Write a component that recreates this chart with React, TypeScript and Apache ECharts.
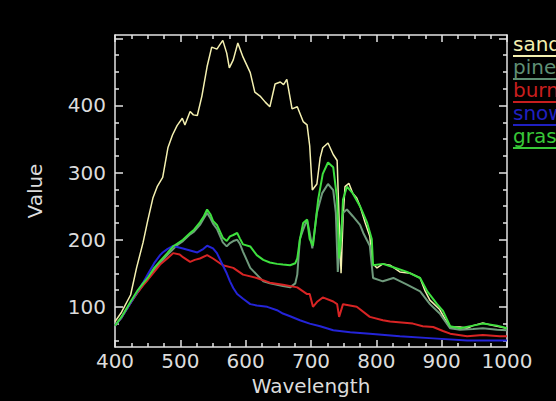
import React, { useEffect, useRef } from "react";
import * as echarts from "echarts";

const seriesNames = ["sand", "pine", "burn", "snow", "grass"];
const seriesColors = ["#f4f0b0", "#6f9a7c", "#d82424", "#2424d8", "#3ee03e"];
const legendColors = ["#f4f0b0", "#5f8f74", "#c81e1e", "#2020c0", "#38c838"];

const sand: number[][] = [
  [400, 78], [410, 92], [424, 118], [433, 158], [443, 196], [450, 228], [458, 262], [465, 280], [473, 293],
  [481, 337], [488, 356], [495, 370], [503, 381], [507, 371], [515, 391], [520, 386], [526, 385], [533, 414],
  [541, 458], [548, 487], [556, 484], [560, 490], [565, 497], [571, 478], [575, 456], [581, 468], [588, 493],
  [596, 472], [607, 449], [614, 420], [622, 414], [630, 405], [637, 398], [645, 432], [653, 435], [658, 431],
  [663, 439], [671, 395], [679, 398], [688, 376], [694, 371], [698, 340], [702, 274], [709, 283], [714, 322],
  [718, 337], [726, 344], [734, 327], [740, 318], [743, 230], [746, 150], [749, 230], [752, 279], [758, 284],
  [764, 269], [770, 262], [775, 250], [783, 225], [790, 205], [794, 165], [801, 158], [810, 164], [821, 162],
  [836, 152], [852, 150], [867, 143], [874, 125], [882, 110], [897, 96], [905, 82], [913, 70], [928, 70],
  [939, 68], [948, 72], [963, 76], [979, 72], [1000, 68],
];

const pine: number[][] = [
  [400, 72], [410, 84], [424, 106], [435, 122], [443, 133], [450, 141], [460, 155], [469, 165], [480, 177],
  [489, 186], [495, 192], [504, 198], [515, 208], [521, 212], [530, 222], [536, 232], [541, 240], [546, 232],
  [550, 224], [556, 216], [565, 196], [571, 190], [576, 195], [581, 198], [587, 200], [591, 194], [596, 182],
  [607, 158], [617, 148], [627, 138], [637, 135], [648, 133], [657, 131], [668, 129], [676, 135], [679, 148],
  [683, 201], [688, 215], [694, 230], [698, 210], [702, 187], [709, 240], [717, 269], [726, 283], [734, 274],
  [738, 240], [741, 152], [745, 200], [749, 240], [755, 245], [764, 235], [775, 222], [780, 210], [790, 191],
  [795, 143], [810, 138], [826, 143], [847, 133], [867, 123], [882, 104], [897, 90], [913, 68], [928, 66],
  [948, 67], [963, 68], [985, 66], [1000, 65],
];

const burn: number[][] = [
  [400, 72], [410, 84], [424, 106], [435, 122], [443, 132], [450, 140], [460, 152], [469, 163], [480, 172],
  [489, 180], [499, 178], [504, 174], [515, 167], [522, 170], [530, 172], [541, 177], [550, 172], [565, 162],
  [581, 158], [596, 148], [617, 143], [637, 136], [657, 133], [679, 129], [694, 119], [698, 119], [703, 100],
  [710, 108], [718, 114], [734, 108], [740, 104], [743, 85], [749, 104], [770, 100], [790, 85], [810, 80],
  [821, 78], [856, 75], [871, 71], [887, 70], [902, 64], [913, 60], [939, 56], [963, 58], [989, 56], [1000, 56],
];

const snow: number[][] = [
  [400, 72], [410, 84], [424, 106], [435, 124], [443, 136], [450, 148], [460, 165], [469, 177], [473, 181],
  [480, 186], [489, 191], [495, 189], [504, 187], [515, 184], [526, 181], [535, 186], [541, 191], [550, 187],
  [556, 180], [565, 162], [571, 150], [576, 138], [581, 128], [587, 119], [596, 112], [607, 104], [617, 102],
  [633, 100], [648, 95], [657, 90], [668, 86], [683, 80], [698, 75], [714, 71], [734, 65], [760, 62],
  [790, 60], [836, 56], [887, 53], [939, 50], [989, 50], [1000, 50],
];

const grass: number[][] = [
  [400, 72], [410, 85], [424, 108], [435, 125], [443, 135], [450, 143], [460, 158], [469, 168], [480, 180],
  [489, 190], [495, 194], [504, 200], [515, 210], [521, 215], [530, 226], [536, 235], [541, 245], [546, 238],
  [550, 228], [556, 222], [565, 203], [571, 198], [576, 205], [581, 207], [587, 210], [591, 202], [596, 193],
  [607, 190], [617, 177], [627, 170], [637, 166], [648, 164], [657, 163], [668, 162], [676, 165], [679, 172],
  [683, 200], [688, 225], [694, 230], [698, 201], [703, 191], [711, 260], [718, 298], [726, 315], [734, 308],
  [740, 260], [743, 172], [746, 200], [749, 260], [755, 279], [764, 269], [775, 250], [786, 225], [793, 201],
  [795, 162], [810, 164], [826, 159], [847, 152], [867, 143], [878, 123], [893, 104], [902, 94], [913, 71],
  [928, 68], [948, 72], [963, 75], [985, 72], [1000, 68],
];

const seriesData = [sand, pine, burn, snow, grass];

const yMajorTicks = [100, 200, 300, 400, 500];
const yLabelValues = [100, 200, 300, 400];
const yMinorTicks = [50, 75, 125, 150, 175, 225, 250, 275, 325, 350, 375, 425, 450, 475];

const Y_MIN = 40;
const Y_MAX = 505;

export default function App() {
  const ref = useRef<HTMLDivElement>(null);

  useEffect(() => {
    document.body.style.margin = "0";
    document.body.style.background = "#000";
    if (!ref.current) return;
    const chart = echarts.init(ref.current, null, { renderer: "svg" });
    const axisColor = "#e4e4e4";
    const font = "DejaVu Sans";

    const xBase = (position: "bottom" | "top", showLabel: boolean) => ({
      type: "value",
      position,
      min: 400,
      max: 1000,
      interval: 100,
      axisLine: { show: true, onZero: false, lineStyle: { color: axisColor, width: 1.5 } },
      axisTick: { show: true, inside: true, length: 7, lineStyle: { color: axisColor, width: 1.5 } },
      minorTick: { show: true, splitNumber: 4, length: 4, lineStyle: { color: axisColor, width: 1.5 } },
      axisLabel: {
        show: showLabel,
        color: "#dcdcdc",
        fontFamily: font,
        fontSize: 20,
        margin: 4,
        formatter: (v: number) => String(v),
      },
      splitLine: { show: false },
    });

    const yBase = (position: "left" | "right", ticks: number[], len: number, line: boolean, labels: number[] | null) => ({
      type: "value",
      position,
      min: Y_MIN,
      max: Y_MAX,
      axisLine: { show: line, onZero: false, lineStyle: { color: axisColor, width: 1.5 } },
      axisTick: { show: true, inside: true, length: len, customValues: ticks, lineStyle: { color: axisColor, width: 1.5 } },
      axisLabel: labels
        ? { show: true, customValues: labels, color: "#dcdcdc", fontFamily: font, fontSize: 20, margin: 9, formatter: (v: number) => String(v) }
        : { show: false },
      splitLine: { show: false },
    });

    const legendGraphics: any[] = [];
    seriesNames.forEach((name, i) => {
      const cy = 45 + i * 23;
      legendGraphics.push({
        type: "text",
        left: 513,
        top: cy - 11,
        style: { text: name, fill: legendColors[i], fontFamily: font, fontSize: 20 },
      });
      legendGraphics.push({
        type: "line",
        shape: { x1: 513, y1: cy + 11, x2: 556, y2: cy + 11 },
        style: { stroke: legendColors[i], lineWidth: 2 },
      });
    });

    chart.setOption({
      animation: false,
      backgroundColor: "#000",
      grid: { left: 115, right: 49, top: 35, bottom: 47, containLabel: false },
      xAxis: [
        {
          ...xBase("bottom", true),
          name: "Wavelength",
          nameLocation: "middle",
          nameGap: 22,
          nameTextStyle: { color: "#dcdcdc", fontFamily: font, fontSize: 20 },
        },
        xBase("top", false),
      ],
      yAxis: [
        {
          ...yBase("left", yMajorTicks, 8, true, yLabelValues),
          name: "Value",
          nameLocation: "middle",
          nameRotate: 90,
          nameGap: 70,
          nameTextStyle: { color: "#dcdcdc", fontFamily: font, fontSize: 20 },
        },
        yBase("left", yMinorTicks, 4, false, null),
        yBase("right", yMajorTicks, 8, true, null),
        yBase("right", yMinorTicks, 4, false, null),
      ],
      series: seriesNames.map((name, i) => ({
        name,
        type: "line",
        xAxisIndex: 0,
        yAxisIndex: 0,
        data: seriesData[i],
        showSymbol: false,
        symbol: "none",
        lineStyle: { color: seriesColors[i], width: i === 0 ? 1.5 : 2 },
        z: 2,
      })),
      graphic: legendGraphics,
    });

    return () => chart.dispose();
  }, []);

  return <div ref={ref} style={{ width: 556, height: 401, background: "#000" }} />;
}
